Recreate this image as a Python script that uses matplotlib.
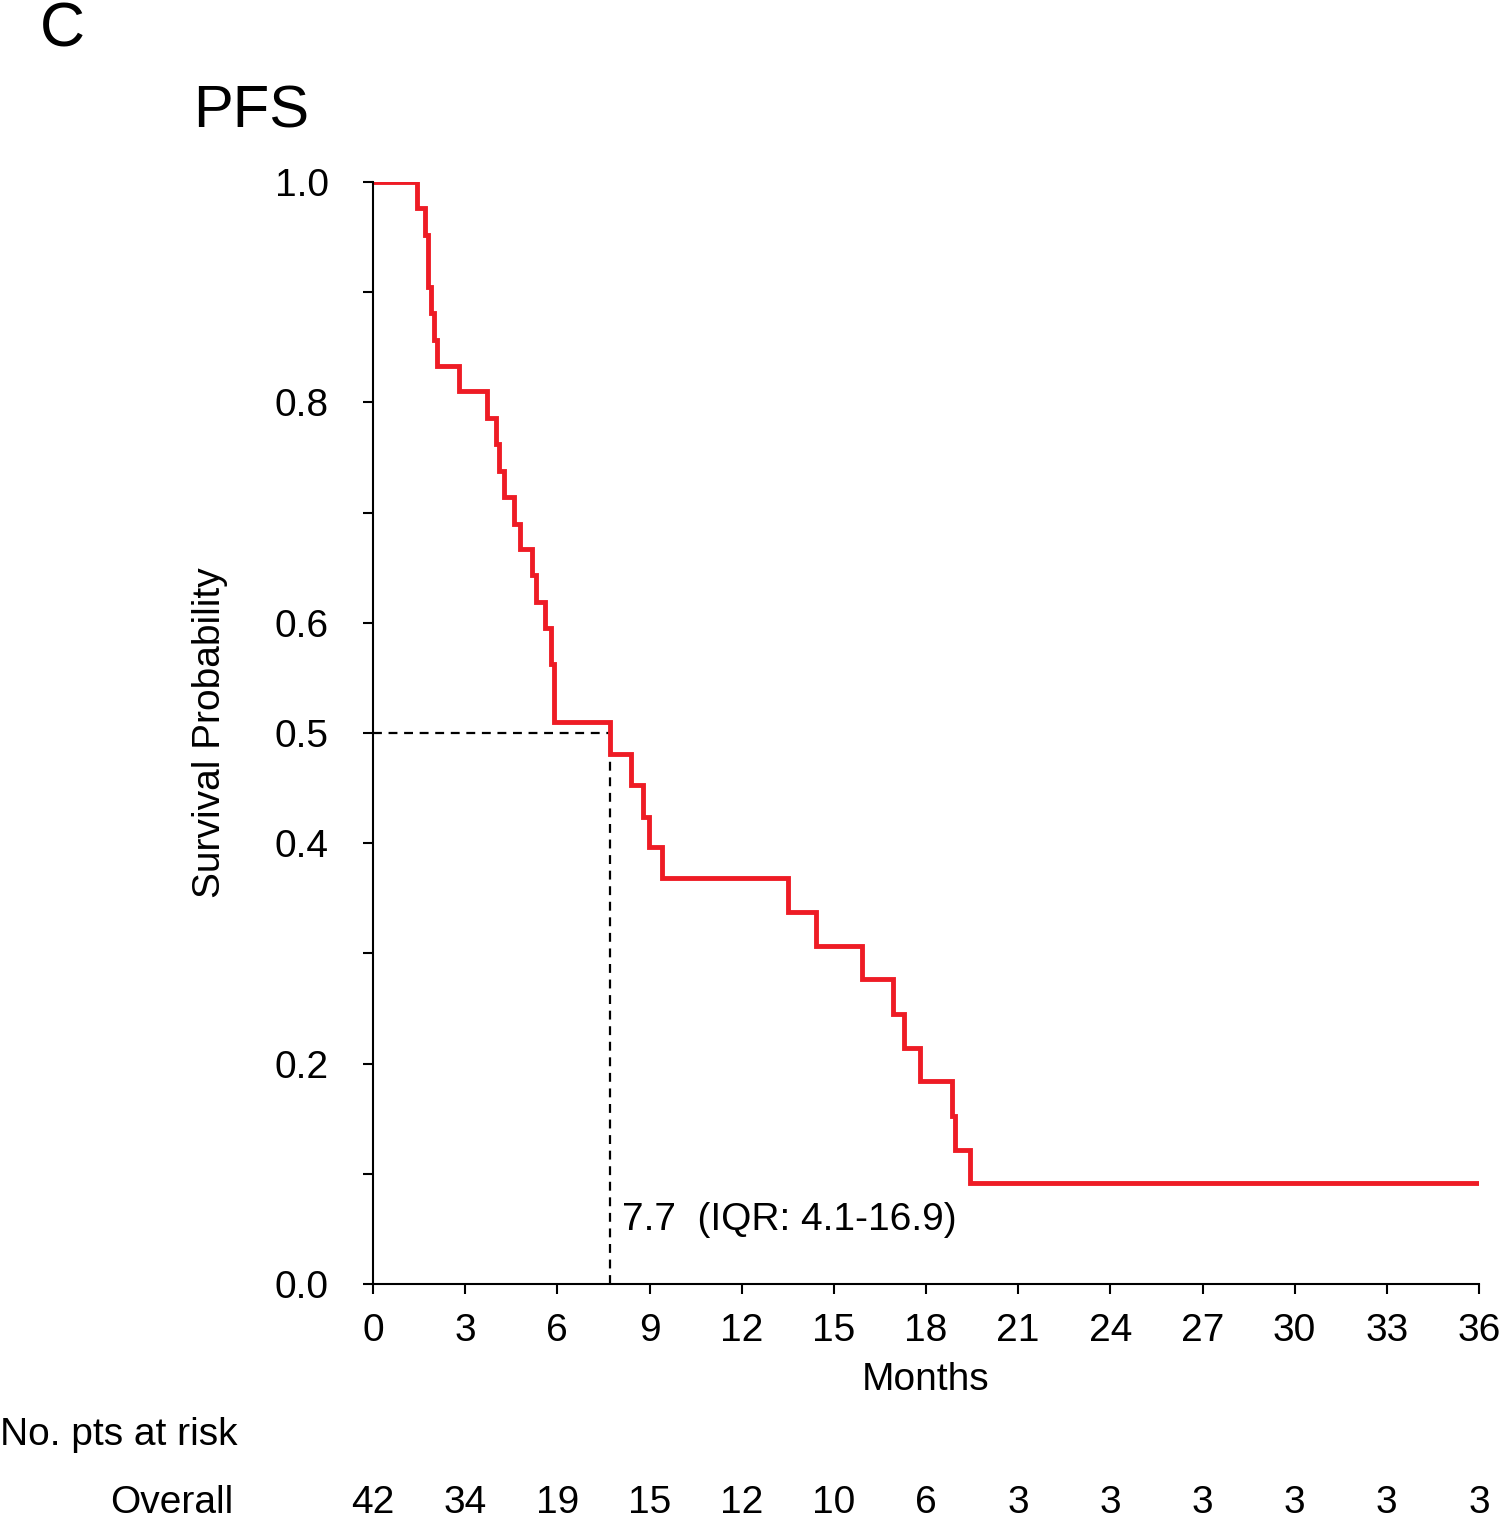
import numpy as np
import matplotlib.pyplot as plt
import matplotlib.transforms as mtransforms

plt.rcParams['font.family'] = ['Liberation Sans', 'DejaVu Sans']

# Kaplan-Meier steps (months, survival probability)
times = [0, 1.43, 1.69, 1.79, 1.89, 1.99, 2.08, 2.80, 3.71, 4.00, 4.10, 4.27,
         4.59, 4.79, 5.18, 5.31, 5.60, 5.79, 5.89, 7.72, 8.40, 8.79, 8.98, 9.41,
         13.51, 14.42, 15.92, 16.93, 17.29, 17.81, 18.85, 18.95, 19.43, 36]
surv = [1.0, 0.976, 0.952, 0.905, 0.881, 0.857, 0.833, 0.810, 0.786, 0.762,
        0.738, 0.714, 0.690, 0.667, 0.643, 0.619, 0.595, 0.563, 0.510, 0.481,
        0.453, 0.424, 0.397, 0.368, 0.338, 0.307, 0.277, 0.245, 0.214, 0.184,
        0.152, 0.122, 0.092, 0.092]

median = 7.7
median_text = '7.7  (IQR: 4.1-16.9)'

xticks = list(range(0, 37, 3))
risk_counts = [42, 34, 19, 15, 12, 10, 6, 3, 3, 3, 3, 3, 3]

yticks = [round(v, 1) for v in np.arange(0, 1.01, 0.1)]
ylabelled = [0.0, 0.2, 0.4, 0.5, 0.6, 0.8, 1.0]

W, H = 1500, 1518
fig = plt.figure(figsize=(W / 100, H / 100), dpi=100)
ax = fig.add_axes([373 / W, 1 - 1284 / H, (1479 - 373) / W, (1284 - 182) / H])

fs = 28
ax.step(times, surv, where='post', color='#ee1c25', lw=3.5, zorder=3,
        solid_joinstyle='miter')

# median lines
ax.plot([0, median], [0.5, 0.5], ls=(0, (4, 3)), color='black', lw=1.6, zorder=2)
ax.plot([median, median], [0, 0.5], ls=(0, (4, 3)), color='black', lw=1.6, zorder=2)
ax.text(8.1, 0.058, median_text, fontsize=fs, va='center', ha='left')

ax.set_xlim(0, 36)
ax.set_ylim(0, 1.0)
ax.set_xticks(xticks)
ax.set_xticklabels([str(x) for x in xticks])
ax.set_yticks(yticks)
ax.set_yticklabels(['%.1f' % v if v in ylabelled else '' for v in yticks])
ax.tick_params(axis='both', labelsize=fs, length=7, width=1.5, direction='out')
ax.tick_params(axis='x', pad=14)
ax.tick_params(axis='y', pad=25)

for s in ['top', 'right']:
    ax.spines[s].set_visible(False)
for s in ['left', 'bottom']:
    ax.spines[s].set_linewidth(1.5)
ax.spines['left'].set_zorder(4)

ax.set_xlabel('Months', fontsize=fs, labelpad=9)
fig.text(210 / W, 1 - 733 / H, 'Survival Probability', fontsize=fs,
         rotation=90, ha='center', va='center')

# panel letter and title
fig.text(40 / W, 1 - 30 / H, 'C', fontsize=45, ha='left', va='center')
fig.text(193 / W, 1 - 112 / H, 'PFS', fontsize=43, ha='left', va='center')

# number at risk table
fig.text(0, 1 - 1435 / H, 'No. pts at risk', fontsize=fs, ha='left', va='center')
fig.text(233 / W, 1 - 1503 / H, 'Overall', fontsize=fs, ha='right', va='center')
trans = mtransforms.blended_transform_factory(ax.transData, fig.transFigure)
for x, n in zip(xticks, risk_counts):
    ax.text(x, 1 - 1503 / H, str(n), fontsize=fs, ha='center', va='center',
            transform=trans, clip_on=False)

fig.savefig('out.png', dpi=100)
